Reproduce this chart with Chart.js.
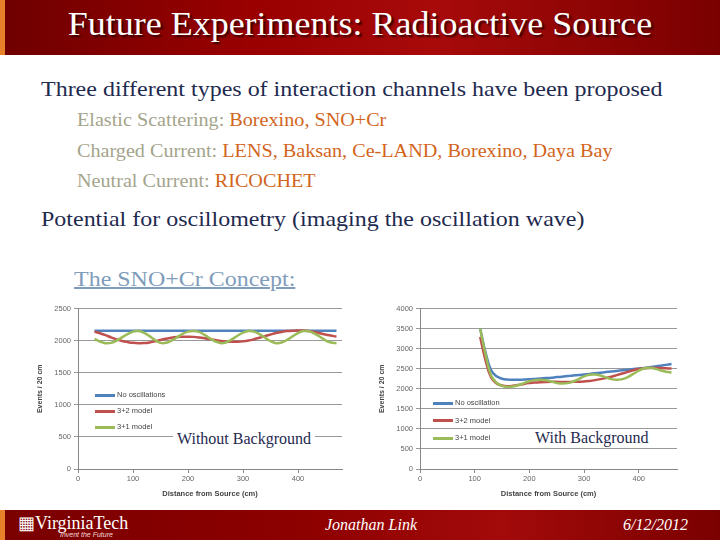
<!DOCTYPE html>
<html>
<head>
<meta charset="utf-8">
<script src="https://cdn.jsdelivr.net/npm/chart.js@4/dist/chart.umd.min.js"></script>
<style>
  html, body { margin: 0; padding: 0; }
  body { width: 720px; height: 540px; position: relative; overflow: hidden; background: #fff; font-family: "Liberation Serif", serif; }
  .titlebar { position: absolute; left: 0; top: 0; width: 720px; height: 55px;
    background: linear-gradient(90deg, #6e0000 0%, #9a0000 35%, #a80a0a 60%, #7a0000 100%); }
  .titlebar:before, .footer:before { content: ""; position: absolute; left: 0; top: 0; bottom: 0; width: 5px; background: #e8812a; }
  .titlebar h1 { margin: 0; position: absolute; left: 0; width: 720px; top: 6px; text-align: center;
    font-family: "Liberation Serif", serif; font-weight: normal; font-size: 33px; color: #fff;
    text-shadow: 2px 2px 2px #300; transform: scaleX(1.09); }
  .txt { position: absolute; white-space: nowrap; font-family: "Liberation Serif", serif;
    transform: scaleX(1.09); transform-origin: 0 0; }
  .l1 { font-size: 22px; color: #1f2a4f; }
  .l2 { font-size: 18.5px; color: #a4a48c; }
  .l2 span { color: #d2651c; }
  .concept { font-size: 22px; color: #7f9dbb; text-decoration: underline; text-decoration-thickness: 2px; }
  .footer { position: absolute; left: 0; top: 510px; width: 720px; height: 30px;
    background: linear-gradient(90deg, #7a0000 0%, #8c0000 40%, #a30a0a 70%, #7a0000 100%); }
  .footer .vt { position: absolute; left: 18px; top: 2px; color: #fff; font-size: 18px; }
  .footer .vt small { position: absolute; left: 42px; top: 19px; font-size: 7px; font-style: italic; font-family: "Liberation Sans", sans-serif; color: #f3d9d9; white-space: nowrap; }
  .footer .who { position: absolute; left: 325px; top: 6px; color: #fff; font-size: 16px; font-style: italic; }
  .footer .date { position: absolute; left: 623px; top: 6px; color: #fff; font-size: 16px; font-style: italic; }
  .chartbox { position: absolute; }
  .legend { position: absolute; font-family: "Liberation Sans", sans-serif; font-size: 7.5px; color: #444; }
  .legend div { height: 16px; line-height: 16px; white-space: nowrap; }
  #legendBg div { height: 17.5px; line-height: 17.5px; }
  .legend i { display: inline-block; width: 20px; height: 3px; vertical-align: middle; margin-right: 2px; }
  .tag { position: absolute; background: #fff; color: #1f2a4f; font-size: 16px; padding: 0 4px; white-space: nowrap; }
</style>
</head>
<body>
<div class="titlebar"><h1>Future Experiments: Radioactive Source</h1></div>

<div class="txt l1" style="left:41px; top:76px;">Three different types of interaction channels have been proposed</div>
<div class="txt l2" style="left:77px; top:110px;">Elastic Scattering: <span>Borexino, SNO+Cr</span></div>
<div class="txt l2" style="left:77px; top:141px;">Charged Current: <span>LENS, Baksan, Ce-LAND, Borexino, Daya Bay</span></div>
<div class="txt l2" style="left:77px; top:171px;">Neutral Current: <span>RICOCHET</span></div>
<div class="txt l1" style="left:41px; top:206px;">Potential for oscillometry (imaging the oscillation wave)</div>
<div class="txt concept" style="left:74px; top:266px;">The SNO+Cr Concept:</div>

<div class="chartbox" style="left:36px; top:301px; width:314px; height:197px;"><canvas id="chartNoBg"></canvas></div>
<div class="chartbox" style="left:378px; top:301px; width:307px; height:197px;"><canvas id="chartBg"></canvas></div>

<div class="legend" id="legendNoBg" style="left:95px; top:387px;"></div>
<div class="legend" id="legendBg" style="left:433px; top:394px;"></div>

<div class="tag" style="left:173px; top:430px;">Without Background</div>
<div class="tag" style="left:531px; top:429px;">With Background</div>

<div class="footer">
  <div class="vt">&#9638;VirginiaTech<small>Invent the Future</small></div>
  <div class="who">Jonathan Link</div>
  <div class="date">6/12/2012</div>
</div>

<script>
// Khoảng cách (cm) - biểu đồ không có nền
const distNoBg = [30, 40, 50, 60, 70, 80, 90, 100, 110, 120, 130, 140, 150, 160, 170, 180, 190, 200,
    210, 220, 230, 240, 250, 260, 270, 280, 290, 300, 310, 320, 330, 340, 350, 360, 370, 380, 390, 400,
    410, 420, 430, 440, 450, 460, 470];
const noOscNoBg = [2155, 2155, 2155, 2155, 2155, 2155, 2155, 2155, 2155, 2155, 2155, 2155, 2155, 2155, 2155,
    2155, 2155, 2155, 2155, 2155, 2155, 2155, 2155, 2155, 2155, 2155, 2155, 2155, 2155, 2155, 2155, 2155,
    2155, 2155, 2155, 2155, 2155, 2155, 2155, 2155, 2155, 2155, 2155, 2155, 2155];
const model32NoBg = [2140, 2115, 2085, 2050, 2020, 1995, 1978, 1965, 1960, 1962, 1972, 1990, 2010, 2030, 2045,
    2055, 2060, 2060, 2058, 2050, 2038, 2022, 2008, 1995, 1987, 1983, 1983, 1988, 2000, 2020, 2045, 2070,
    2095, 2118, 2135, 2148, 2155, 2158, 2158, 2150, 2135, 2115, 2095, 2078, 2062];
const model31NoBg = [2025, 1985, 1960, 1965, 2000, 2050, 2100, 2140, 2148, 2120, 2070, 2010, 1965, 1965, 2000,
    2050, 2105, 2140, 2150, 2135, 2090, 2035, 1985, 1960, 1975, 2020, 2075, 2125, 2150, 2140, 2100, 2045,
    1990, 1960, 1970, 2010, 2065, 2115, 2148, 2145, 2110, 2060, 2005, 1970, 1960];

// Khoảng cách (cm) - biểu đồ có nền
const distBg = [110, 120, 130, 140, 150, 160, 170, 180, 190, 200, 210, 220, 230, 240, 250, 260, 270, 280,
    290, 300, 310, 320, 330, 340, 350, 360, 370, 380, 390, 400, 410, 420, 430, 440, 450, 460];
const noOscBg = [3500, 2900, 2460, 2310, 2250, 2228, 2222, 2222, 2228, 2235, 2245, 2255, 2265, 2275, 2290,
    2300, 2315, 2330, 2340, 2355, 2370, 2385, 2400, 2415, 2430, 2445, 2460, 2475, 2490, 2505, 2520, 2535,
    2555, 2575, 2595, 2615];
const model32Bg = [3290, 2700, 2280, 2130, 2080, 2065, 2075, 2095, 2120, 2140, 2155, 2165, 2170, 2172, 2172,
    2170, 2170, 2172, 2175, 2180, 2195, 2215, 2240, 2270, 2300, 2340, 2380, 2420, 2460, 2490, 2512, 2520,
    2520, 2515, 2508, 2502];
const model31Bg = [3500, 2850, 2330, 2150, 2070, 2045, 2055, 2090, 2140, 2185, 2215, 2225, 2210, 2180, 2145,
    2130, 2140, 2180, 2240, 2310, 2350, 2355, 2330, 2285, 2240, 2225, 2240, 2290, 2370, 2450, 2510, 2525,
    2500, 2460, 2425, 2405];

const xTicks = [0, 100, 200, 300, 400];
const labelsNoBg = ['No oscillations', '3+2 model', '3+1 model'];
const labelsBg = ['No oscillation', '3+2 model', '3+1 model'];
const colors = ['#4f81bd', '#c0504d', '#9bbb59'];

function toPoints(xs, ys) {
    return xs.map((x, i) => ({ x: x, y: ys[i] }));
}

function makeChart(id, xs, series, labels, xMax, yMax) {
    const ctx = document.getElementById(id).getContext('2d');
    return new Chart(ctx, {
        type: 'line',
        data: {
            datasets: series.map((s, i) => ({
                label: labels[i],
                data: toPoints(xs, s),
                borderColor: colors[i],
                borderWidth: 2.5,
                pointRadius: 0,
                tension: 0.4,
                fill: false
            })).reverse()
        },
        options: {
            responsive: true,
            maintainAspectRatio: false,
            animation: false,
            layout: { padding: { top: 6, right: 8 } },
            plugins: { legend: { display: false }, tooltip: { enabled: false } },
            scales: {
                x: {
                    type: 'linear', min: 0, max: xMax,
                    afterBuildTicks: axis => { axis.ticks = xTicks.map(v => ({ value: v })); },
                    grid: { drawOnChartArea: false, color: '#888', tickLength: 4 },
                    border: { color: '#888' },
                    ticks: { color: '#666', font: { size: 7.5, family: 'Liberation Sans' }, padding: 1, maxRotation: 0,
                        callback: v => String(v) },
                    title: { display: true, text: 'Distance from Source (cm)', color: '#444',
                        font: { size: 7.5, family: 'Liberation Sans', weight: 'bold' }, padding: { top: 5, bottom: 0 } }
                },
                y: {
                    min: 0, max: yMax,
                    ticks: { stepSize: 500, color: '#666', font: { size: 7.5, family: 'Liberation Sans' }, padding: 3,
                        callback: v => String(v) },
                    grid: { color: '#999', tickLength: 4 },
                    border: { color: '#888' },
                    afterFit: axis => { axis.width = 42; },
                    title: { display: true, text: 'Events / 20 cm', color: '#444',
                        font: { size: 7, family: 'Liberation Sans', weight: 'bold' }, padding: 0 }
                }
            }
        }
    });
}

function makeLegend(id, labels) {
    document.getElementById(id).innerHTML = labels.map((l, i) =>
        '<div><i style="background:' + colors[i] + '"></i>' + l + '</div>').join('');
}

makeChart('chartNoBg', distNoBg, [noOscNoBg, model32NoBg, model31NoBg], labelsNoBg, 480, 2500);
makeChart('chartBg', distBg, [noOscBg, model32Bg, model31Bg], labelsBg, 470, 4000);
makeLegend('legendNoBg', labelsNoBg);
makeLegend('legendBg', labelsBg);
</script>
</body>
</html>
